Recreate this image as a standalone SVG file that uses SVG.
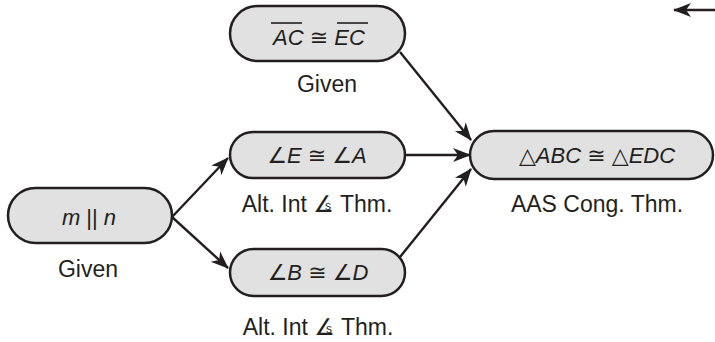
<svg xmlns="http://www.w3.org/2000/svg" width="715" height="342" viewBox="0 0 715 342">
<style>
.node rect{fill:#e1e1e1;stroke:#231f20;stroke-width:2.5}
text{font-family:"Liberation Sans","DejaVu Sans",sans-serif;font-size:22px;fill:#231f20}
.lbl{font-size:23px}
.c{text-anchor:middle}
.i{font-style:italic}
.sym{font-family:"DejaVu Sans",sans-serif;font-style:normal}
.conn line{stroke:#231f20;stroke-width:2.4}
.ov{stroke:#231f20;stroke-width:1.6}
</style>
<defs>
<marker id="ah" markerUnits="userSpaceOnUse" markerWidth="20" markerHeight="16" refX="17" refY="7" orient="auto" overflow="visible">
<path d="M0,0 L18,7 L0,14 L5,7 Z" fill="#231f20"/>
</marker>
</defs>
<rect width="715" height="342" fill="#ffffff"/>

<g class="conn">
<line x1="172" y1="217" x2="228" y2="158" marker-end="url(#ah)"/>
<line x1="172" y1="217" x2="228" y2="268" marker-end="url(#ah)"/>
<line x1="400" y1="52" x2="471" y2="140" marker-end="url(#ah)"/>
<line x1="405" y1="155" x2="470" y2="155" marker-end="url(#ah)"/>
<line x1="400" y1="257" x2="471" y2="169" marker-end="url(#ah)"/>
<line x1="715" y1="10" x2="674" y2="10" marker-end="url(#ah)"/>
</g>

<g id="node-ac-ec" class="node">
<rect x="230" y="6" width="175" height="55" rx="27.5"/>
<text class="c" x="319" y="45"><tspan class="i">AC</tspan> <tspan class="sym">≅</tspan> <tspan class="i">EC</tspan></text>
<line class="ov" x1="271" y1="23" x2="302" y2="23"/>
<line class="ov" x1="337" y1="23" x2="368" y2="23"/>
<text class="c lbl" x="327" y="92">Given</text>
</g>

<g id="node-e-a" class="node">
<rect x="230" y="132" width="175" height="46" rx="23"/>
<text class="c" x="317" y="163"><tspan class="sym">∠</tspan><tspan class="i">E</tspan> <tspan class="sym">≅</tspan> <tspan class="sym">∠</tspan><tspan class="i">A</tspan></text>
<text class="c lbl" x="317" y="212">Alt. Int <tspan class="sym">∠</tspan><tspan font-size="12" dx="-9" dy="-2">s</tspan><tspan dx="3" dy="2"> Thm.</tspan></text>
</g>

<g id="node-b-d" class="node">
<rect x="230" y="249" width="175" height="47" rx="23.5"/>
<text class="c" x="318" y="280"><tspan class="sym">∠</tspan><tspan class="i">B</tspan> <tspan class="sym">≅</tspan> <tspan class="sym">∠</tspan><tspan class="i">D</tspan></text>
<text class="c lbl" x="318" y="335">Alt. Int <tspan class="sym">∠</tspan><tspan font-size="12" dx="-9" dy="-2">s</tspan><tspan dx="3" dy="2"> Thm.</tspan></text>
</g>

<g id="node-m-n" class="node">
<rect x="8" y="188" width="164" height="55" rx="27.5"/>
<text class="c" x="89" y="225"><tspan class="i">m</tspan> || <tspan class="i">n</tspan></text>
<text class="c lbl" x="88" y="277">Given</text>
</g>

<g id="node-abc-edc" class="node">
<rect x="470" y="131" width="243" height="48" rx="24"/>
<text class="c" x="597" y="163"><tspan class="sym">△</tspan><tspan class="i">ABC</tspan> <tspan class="sym">≅</tspan> <tspan class="sym">△</tspan><tspan class="i">EDC</tspan></text>
<text class="c lbl" x="597" y="212">AAS Cong. Thm.</text>
</g>
</svg>
